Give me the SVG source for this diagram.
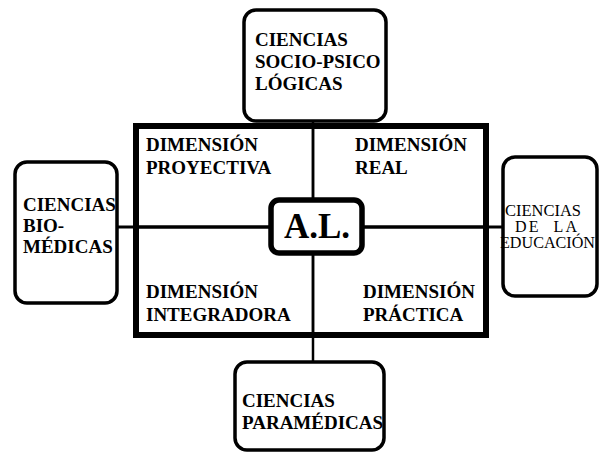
<svg xmlns="http://www.w3.org/2000/svg" width="599" height="452" viewBox="0 0 599 452">
<style>
.box{fill:#fff;stroke:#000;stroke-width:3.5}
.t{font-family:"Liberation Serif","Times New Roman",serif;font-weight:bold;font-size:19px;fill:#000}
.r{font-family:"Liberation Serif","Times New Roman",serif;font-size:16px;fill:#000}
.big{font-size:35px}
.ln{stroke:#000;fill:none}
</style>
<rect width="599" height="452" fill="#fff"/>
<g id="connectors">
<line class="ln" x1="313" y1="121" x2="313" y2="363" stroke-width="2.5"/>
<line class="ln" x1="117" y1="227" x2="503" y2="227" stroke-width="3"/>
</g>
<g id="main">
<rect x="136" y="126" width="350" height="209" fill="none" stroke="#000" stroke-width="6"/>
<line class="ln" x1="313" y1="126" x2="313" y2="335" stroke-width="2.5"/>
<line class="ln" x1="136" y1="227" x2="486" y2="227" stroke-width="3"/>
<text class="t" x="146" y="151">DIMENSIÓN</text>
<text class="t" x="146" y="174">PROYECTIVA</text>
<text class="t" x="355" y="151">DIMENSIÓN</text>
<text class="t" x="355" y="174">REAL</text>
<text class="t" x="146" y="298">DIMENSIÓN</text>
<text class="t" x="146" y="321">INTEGRADORA</text>
<text class="t" x="363" y="298">DIMENSIÓN</text>
<text class="t" x="363" y="321">PRÁCTICA</text>
</g>
<g id="al">
<rect x="271" y="200" width="91" height="53" rx="8" fill="#fff" stroke="#000" stroke-width="5.5"/>
<text class="t big" x="317" y="238" text-anchor="middle">A.L.</text>
</g>
<g id="socio">
<rect class="box" x="244" y="10" width="142" height="111" rx="12"/>
<text class="t" x="255" y="46">CIENCIAS</text>
<text class="t" x="255" y="68">SOCIO-PSICO</text>
<text class="t" x="255" y="90">LÓGICAS</text>
</g>
<g id="bio">
<rect class="box" x="15" y="162" width="102" height="141" rx="12"/>
<text class="t" x="23" y="211">CIENCIAS</text>
<text class="t" x="23" y="232">BIO-</text>
<text class="t" x="23" y="253">MÉDICAS</text>
</g>
<g id="educacion">
<rect class="box" x="503" y="157" width="94" height="139" rx="12"/>
<text class="r" x="505" y="216" textLength="76" lengthAdjust="spacingAndGlyphs">CIENCIAS</text>
<text class="r" x="515" y="232" xml:space="preserve" textLength="62" lengthAdjust="spacing">DE  LA</text>
<text class="r" x="500" y="248" textLength="95" lengthAdjust="spacingAndGlyphs">EDUCACIÓN</text>
</g>
<g id="paramedicas">
<rect class="box" x="235" y="362" width="149" height="88" rx="12"/>
<text class="t" x="242" y="407">CIENCIAS</text>
<text class="t" x="242" y="429">PARAMÉDICAS</text>
</g>
</svg>
